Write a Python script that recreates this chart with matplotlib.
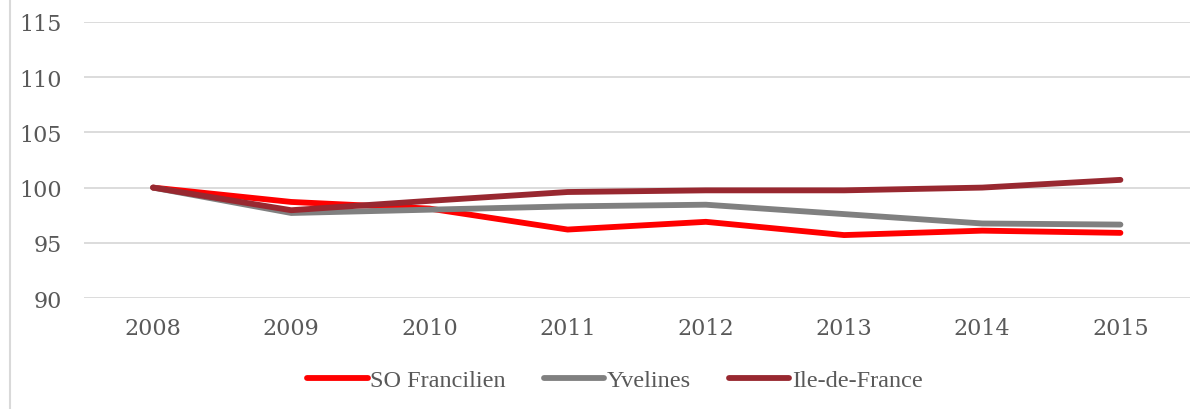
import matplotlib.pyplot as plt
from matplotlib.lines import Line2D

# Index base 100 en 2008
years = ["2008", "2009", "2010", "2011", "2012", "2013", "2014", "2015"]
so_francilien = [100.0, 98.7, 98.1, 96.2, 96.9, 95.7, 96.1, 95.9]
yvelines = [100.0, 97.7, 98.0, 98.3, 98.45, 97.6, 96.75, 96.65]
ile_de_france = [100.0, 97.95, 98.8, 99.6, 99.75, 99.75, 100.0, 100.7]

series = [
    ("SO Francilien", so_francilien, "#FF0000"),
    ("Yvelines", yvelines, "#808080"),
    ("Ile-de-France", ile_de_france, "#982830"),
]

text_color = "#595959"
grid_color = "#D9D9D9"

fig = plt.figure(figsize=(12.03, 4.10), dpi=100)
ax = fig.add_axes([0.0698, 0.2707, 0.919, 0.6733])

x = range(len(years))
for label, vals, color in series:
    ax.plot(x, vals, color=color, lw=4.2, solid_capstyle="round",
            solid_joinstyle="round", label=label)

ax.set_ylim(90, 115)
ax.set_yticks([90, 95, 100, 105, 110, 115])
ax.set_xlim(-0.5, len(years) - 0.5)
ax.set_xticks(list(x))
ax.set_xticklabels(years)

ax.grid(axis="y", color=grid_color, lw=1.3)
ax.set_axisbelow(True)
for s in ax.spines.values():
    s.set_visible(False)
ax.tick_params(axis="both", length=0, colors=text_color, labelsize=16)
ax.tick_params(axis="y", pad=16)
ax.tick_params(axis="x", pad=14)
for t in ax.get_xticklabels() + ax.get_yticklabels():
    t.set_fontfamily("DejaVu Serif")

# cadre du graphique (bord gauche)
fig.add_artist(Line2D([10 / 1203, 10 / 1203], [0, 1], color=grid_color,
                      lw=1.5, transform=fig.transFigure))

leg = fig.legend(loc="center", bbox_to_anchor=(0.511, 0.07), ncol=3,
                 frameon=False, handlelength=2.5, handletextpad=0.1,
                 columnspacing=1.55,
                 prop={"family": "Liberation Serif", "size": 17.5})
for t in leg.get_texts():
    t.set_color(text_color)

fig.savefig("out.png", dpi=100)
